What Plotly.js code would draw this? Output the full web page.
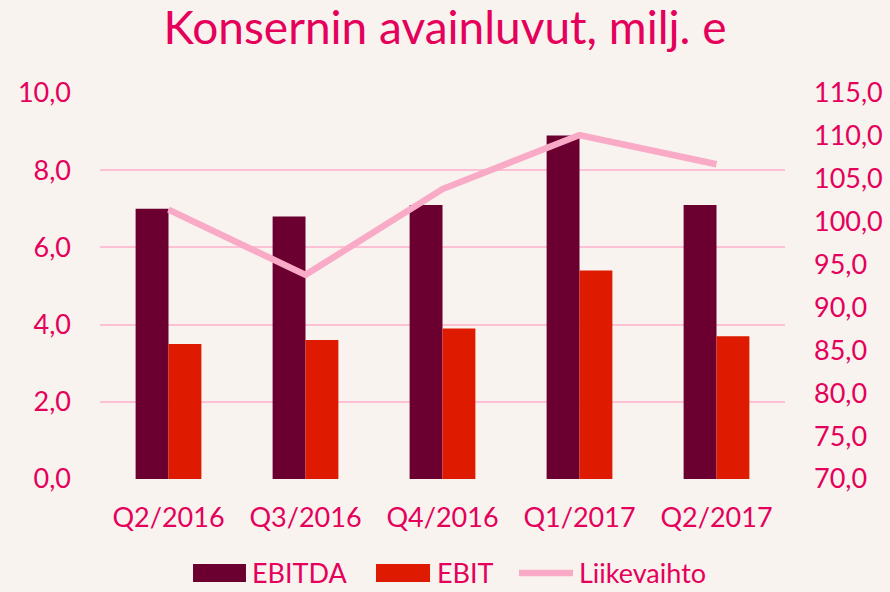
<!DOCTYPE html>
<html>
<head>
<meta charset="utf-8">
<script src="https://cdn.plot.ly/plotly-3.0.1.min.js"></script>
<style>html,body{margin:0;padding:0;background:#F8F3EE;}</style>
</head>
<body>
<div id="chart" style="width:890px;height:592px;"></div>
<script>
const categories = ["Q2/2016", "Q3/2016", "Q4/2016", "Q1/2017", "Q2/2017"];
const ebitda = [7.0, 6.8, 7.1, 8.9, 7.1];
const ebit = [3.5, 3.6, 3.9, 5.4, 3.7];
const liikevaihto = [101.4, 93.8, 103.8, 110.1, 106.7];
const seriesNames = ["EBITDA", "EBIT", "Liikevaihto"];
const seriesColors = ["#6B0030", "#DE1A00", "#F9AAC6"];

const pink = "#E4005B";
const font = "Lato, 'Open Sans', sans-serif";

const traces = [
  {type: "bar", name: seriesNames[0], x: categories, y: ebitda,
   marker: {color: seriesColors[0]}},
  {type: "bar", name: seriesNames[1], x: categories, y: ebit,
   marker: {color: seriesColors[1]}},
  {type: "scatter", mode: "lines", name: seriesNames[2], x: categories, y: liikevaihto,
   yaxis: "y2", line: {color: seriesColors[2], width: 6.5}}
];

// custom legend (paper coordinates), mimicking wide legend keys
const legY0 = -0.2668, legY1 = -0.2202, legYm = -0.2435;
const legKeys = [[0.1358, 0.2131], [0.4029, 0.4818], [0.6117, 0.6905]];
const shapes = [
  {type: "rect", xref: "paper", yref: "paper", x0: legKeys[0][0], x1: legKeys[0][1], y0: legY0, y1: legY1,
   fillcolor: seriesColors[0], line: {width: 0}},
  {type: "rect", xref: "paper", yref: "paper", x0: legKeys[1][0], x1: legKeys[1][1], y0: legY0, y1: legY1,
   fillcolor: seriesColors[1], line: {width: 0}},
  {type: "line", xref: "paper", yref: "paper", x0: legKeys[2][0], x1: legKeys[2][1], y0: legYm, y1: legYm,
   line: {color: seriesColors[2], width: 6.5}}
];
const annotations = seriesNames.map((n, i) => ({
  text: n, xref: "paper", yref: "paper", x: legKeys[i][1] + 0.008, y: legYm,
  xanchor: "left", yanchor: "middle", showarrow: false, borderpad: 0,
  font: {family: font, size: 27, color: pink}
}));

const layout = {
  width: 890, height: 592,
  paper_bgcolor: "#F8F3EE", plot_bgcolor: "#F8F3EE",
  separators: ", ",
  font: {family: font, color: pink, size: 27},
  title: {text: "Konsernin avainluvut, milj. e", x: 0.5, xanchor: "center", y: 0.953, yanchor: "middle",
          font: {family: font, size: 46, color: pink}},
  margin: {l: 100, r: 105, t: 93, b: 113},
  barmode: "group", bargap: 0.52, bargroupgap: 0,
  xaxis: {showgrid: false, zeroline: false, showline: false, ticks: "",
          ticklabelstandoff: 20, tickfont: {size: 27, color: pink}},
  yaxis: {range: [0, 10], dtick: 2, tickformat: ".1f", showgrid: true,
          gridcolor: "#FDC0D5", gridwidth: 2, zeroline: false, showline: false,
          ticks: "", ticklabelstandoff: 28, tickfont: {size: 27, color: pink}},
  yaxis2: {range: [70, 115], dtick: 5, tickformat: ".1f", overlaying: "y", side: "right",
           showgrid: false, zeroline: false, showline: false, ticks: "",
           ticklabelstandoff: 28, tickfont: {size: 27, color: pink}},
  showlegend: false,
  shapes: shapes,
  annotations: annotations
};

Plotly.newPlot("chart", traces, layout, {displayModeBar: false, staticPlot: true});
</script>
</body>
</html>
